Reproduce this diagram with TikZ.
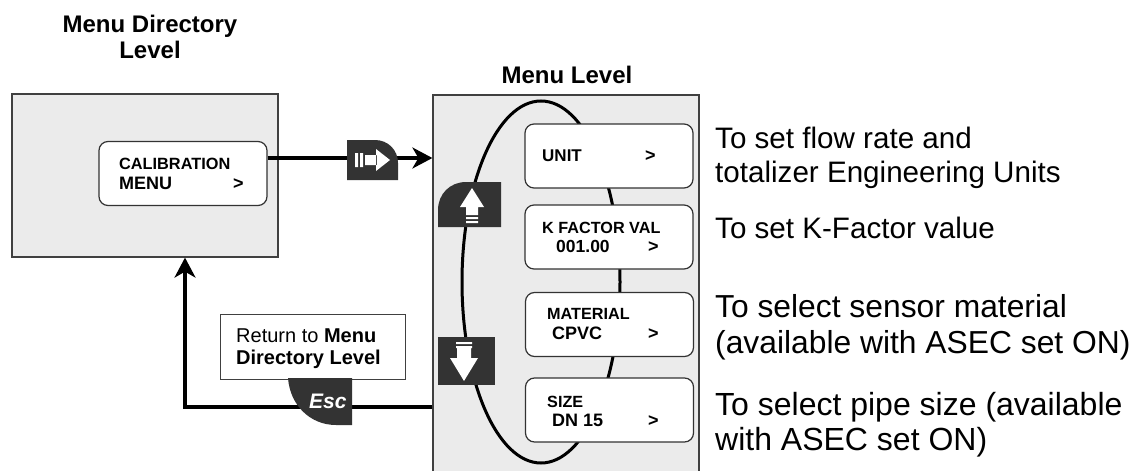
\documentclass[tikz,border=0pt]{standalone}
\usepackage{fontspec}
\setmainfont{Liberation Sans}
\usetikzlibrary{arrows.meta}
\usetikzlibrary{calc,positioning}

\begin{document}
\begin{tikzpicture}[x=1pt,y=1pt,>=Stealth,
    panel/.style = {draw=black!75, line width=1.2pt, fill=black!8, inner sep=0pt},
    item/.style = {draw=black!80, line width=1.2pt, fill=white, rounded corners=9pt,
        minimum width=168pt, minimum height=64pt, inner sep=0pt},
    link/.style = {line width=3.2pt},
    tip/.style = {-{Stealth[length=20pt,width=21pt,inset=6pt]}},
    key/.style = {fill=black!80},
    lcd/.style = {anchor=base west, inner sep=0pt, font=\bfseries\fontsize{16.2}{17}\selectfont},
    lcdbig/.style = {anchor=base west, inner sep=0pt, font=\bfseries\fontsize{18}{20}\selectfont},
    note/.style = {anchor=base west, inner sep=0pt, align=left}]

    \clip (0,0) rectangle (1133,-471);
    \useasboundingbox (0,0) rectangle (1133,-471);

    % the two levels
    \node[panel, minimum width=266pt, minimum height=163pt] (dirbox) at (145,-175.5) {};
    \node[panel, minimum width=266pt, minimum height=385pt] (menubox) at (566,-287.5) {};

    \node[anchor=base, align=center, inner sep=0pt, font=\bfseries\fontsize{24}{26}\selectfont] (dirtitle) at (150,-58) {Menu Directory\\Level};
    \node[anchor=base, inner sep=0pt, font=\bfseries\fontsize{24}{26}\selectfont] (menutitle) at (567,-83) {Menu Level};

    % scroll loop
    \draw[line width=3pt] (541,-282) ellipse [x radius=79, y radius=181];

    % display screens
    \node[item] (calib) at (183,-173.5) {};
    \node[item] (unit) at (609,-156) {};
    \node[item] (kfac) at (609,-237) {};
    \node[item] (mat) at (609.5,-324.5) {};
    \node[item] (size) at (609.5,-410) {};

    \node[lcd, font=\bfseries\fontsize{16.3}{17}\selectfont] (calibA) at (119,-169) {CALIBRATION};
    \node[lcdbig] (calibB) at (119,-189) {MENU};
    \node[lcdbig] at (233,-189) {>};

    \node[lcdbig, font=\bfseries\fontsize{17}{20}\selectfont] (unitA) at (542,-161) {UNIT};
    \node[lcdbig] at (645,-161) {>};

    \node[lcd] (kfacA) at (542,-233) {K FACTOR VAL};
    \node[lcdbig, font=\bfseries\fontsize{17.5}{20}\selectfont] (kfacB) at (556,-252) {001.00};
    \node[lcdbig] at (648,-252) {>};

    \node[lcd] (matA) at (547,-319) {MATERIAL};
    \node[lcdbig] (matB) at (552,-339) {CPVC};
    \node[lcdbig] at (648,-339) {>};

    \node[lcd] (sizeA) at (547,-407) {SIZE};
    \node[lcdbig] (sizeB) at (552,-426) {DN 15};
    \node[lcdbig] at (648,-426) {>};

    % connectors
    \coordinate (fwd) at (372.5,-158);
    \coordinate (esc) at (320,-407);
    \coordinate (turn) at (185,-407);
    \draw[link, tip] (calib.east |- fwd) -- (menubox.west |- fwd);
    \draw[link, tip] (menubox.west |- esc) -- (turn) -- (turn |- dirbox.south);

    \node[draw=black!75, line width=1pt, fill=white, minimum width=185pt, minimum height=65pt, inner sep=0pt] (retbox) at (312.5,-346.5) {};
    \node[note, font=\fontsize{20}{22}\selectfont] (rettext) at (236,-364) {Return to \textbf{Menu}\\\textbf{Directory Level}};

    % keys
    \fill[key] (347,-140) -- (375,-140) .. controls (388,-140) and (398,-150) .. (398,-163) -- (398,-180) -- (347,-180) -- cycle;
    \fill[white] (355,-153) rectangle (358,-167) (360,-153) rectangle (363,-167) (365,-155) rectangle (377,-165)
        (376,-149) -- (390,-160) -- (376,-171) -- cycle;

    \fill[key] (438,-227) -- (438,-210) .. controls (438,-194) and (450,-182) .. (466,-182) -- (501,-182) -- (501,-227) -- cycle;
    \fill[white] (472,-188) -- (484,-207) -- (460,-207) -- cycle (466,-207) rectangle (478,-215)
        (466,-217) rectangle (478,-219) (466,-221) rectangle (478,-223);

    \fill[key] (438,-337) rectangle (495,-385);
    \fill[white] (456,-342) rectangle (472,-344) (456,-346) rectangle (472,-348) (457,-348) rectangle (471,-358)
        (450,-358) -- (478,-358) -- (464,-381) -- cycle;

    \fill[key] (288,-378) -- (352,-378) -- (352,-425) -- (336,-425) .. controls (310,-425) and (290,-405) .. (288,-378) -- cycle;
    \node[anchor=base west, inner sep=0pt, white, font=\bfseries\itshape\fontsize{21}{22}\selectfont] (esclabel) at (309,-408) {Esc};

    % explanations
    \node[note, font=\fontsize{29.6}{34}\selectfont] (unitnote) at (715,-182) {To set flow rate and\\totalizer Engineering Units};
    \node[note, font=\fontsize{29.6}{34}\selectfont] (kfacnote) at (715,-238) {To set K-Factor value};
    \node[note, font=\fontsize{31.8}{36}\selectfont] (matnote) at (715,-353) {To select sensor material\\(available with ASEC set ON)};
    \node[note, font=\fontsize{32}{35}\selectfont] (sizenote) at (715,-450) {To select pipe size (available\\with ASEC set ON)};
\end{tikzpicture}
\end{document}
